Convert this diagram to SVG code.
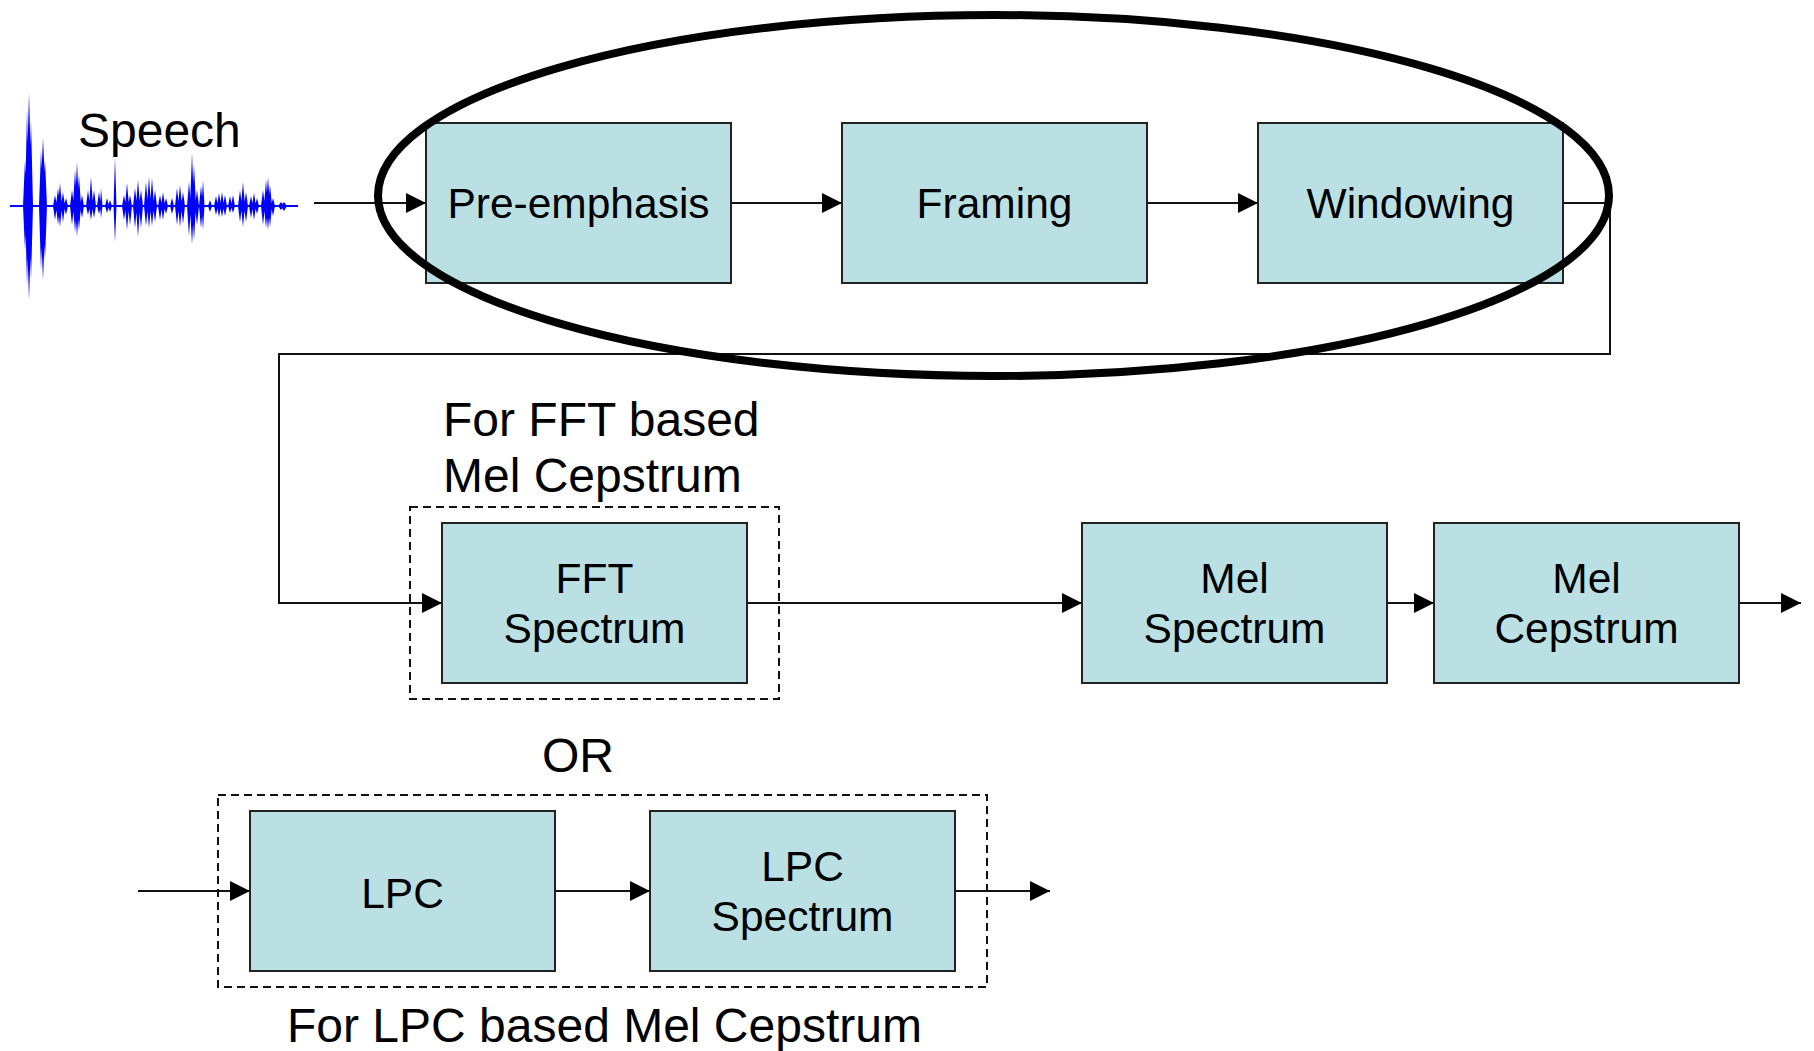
<svg xmlns="http://www.w3.org/2000/svg" width="1814" height="1051" viewBox="0 0 1814 1051">
<style>
.box{fill:#BAE0E3;stroke:#222;stroke-width:2}
.bt{font-family:"Liberation Sans",Arial,sans-serif;font-size:42.5px;fill:#000;text-anchor:middle}
.lbl{font-family:"Liberation Sans",Arial,sans-serif;font-size:48px;fill:#000}
.con{fill:none;stroke:#111;stroke-width:2}
.dash{fill:none;stroke:#111;stroke-width:2;stroke-dasharray:8 5}
</style>
<defs>
<marker id="ah" markerUnits="userSpaceOnUse" markerWidth="22" markerHeight="22" refX="20" refY="10" orient="auto" viewBox="0 0 22 22">
<path d="M0,0 L20,10 L0,20 Z" fill="#000"/>
</marker>
</defs>
<rect width="1814" height="1051" fill="#fff"/>

<g id="speech">
<path d="M10,206 H298" stroke="#0000FF" stroke-width="2"/>
<path fill="#0000FF" d="
M25,206 L27,110 L29,206 L27,285 Z M26,206 L29,93 L32,206 L29,300 Z M29,206 L31,120 L33,206 L31,280 Z M23,206 L25,160 L27,206 L25,250 Z
M39,206 L41,150 L43,206 L41,270 Z M40,206 L43,138 L46,206 L43,280 Z M43,206 L45,160 L47,206 L45,260 Z
M53,206 L55,195 L57,206 L55,220 Z M56,206 L58,188 L60,206 L58,225 Z M58,206 L60,183 L62,206 L60,227 Z M61,206 L63,192 L65,206 L63,222 Z M64,206 L66,198 L68,206 L66,215 Z
M70,206 L72,190 L74,206 L72,225 Z M73,206 L75,170 L77,206 L75,232 Z M75,206 L77,162 L79,206 L77,237 Z M77,206 L79,175 L81,206 L79,230 Z M80,206 L82,195 L84,206 L82,218 Z
M86,206 L88,190 L90,206 L88,215 Z M89,206 L91,177 L93,206 L91,220 Z M92,206 L94,190 L96,206 L94,218 Z
M97,206 L99,192 L101,206 L99,214 Z M100,206 L101,188 L102.5,206 L101,218 Z
M105,206 L107,198 L109,206 L107,213 Z M108,206 L110,200 L112,206 L110,212 Z
M113.5,206 L115,158 L116.5,206 L115,242 Z
M122,206 L124,195 L126,206 L124,220 Z M125,206 L127,183 L129,206 L127,230 Z M128,206 L130,195 L132,206 L130,225 Z
M133,206 L135,188 L137,206 L135,228 Z M136,206 L138,180 L140,206 L138,237 Z M139,206 L141,190 L143,206 L141,228 Z M144,206 L146,182 L148,206 L146,226 Z M147,206 L149,177 L151,206 L149,228 Z M150,206 L152,178 L154,206 L152,226 Z M153,206 L155,190 L157,206 L155,222 Z
M158,206 L160,195 L162,206 L160,220 Z M161,206 L163,192 L165,206 L163,220 Z M164,206 L166,198 L168,206 L166,214 Z
M170,206 L172,198 L174,206 L172,214 Z M175,206 L177,188 L179,206 L177,225 Z M178,206 L180,185 L182,206 L180,227 Z M181,206 L183,192 L185,206 L183,224 Z
M187,206 L189,182 L191,206 L189,236 Z M190,206 L192,153 L194,206 L192,245 Z M192,206 L194,165 L196,206 L194,240 Z M195,206 L197,190 L199,206 L197,225 Z
M199,206 L201,186 L203,206 L201,228 Z M201.5,206 L203,180 L204.5,206 L203,230 Z
M208,206 L210,200 L212,206 L210,212 Z M214,206 L216,196 L218,206 L216,215 Z M217,206 L219,193 L221,206 L219,217 Z M220,206 L222,192 L224,206 L222,217 Z M223,206 L225,195 L227,206 L225,216 Z
M228,206 L230,196 L232,206 L230,213 Z M231,206 L233,195 L235,206 L233,213 Z
M238,206 L240,190 L242,206 L240,222 Z M241,206 L243,182 L245,206 L243,227 Z M244,206 L246,192 L248,206 L246,222 Z
M249,206 L251,196 L253,206 L251,218 Z M252,206 L254,193 L256,206 L254,220 Z M255,206 L257,198 L259,206 L257,214 Z
M261,206 L263,190 L265,206 L263,225 Z M264,206 L266,180 L268,206 L266,228 Z M266,206 L268,177 L270,206 L268,230 Z M268,206 L270,185 L272,206 L270,227 Z M271,206 L273,198 L275,206 L273,216 Z
M278,206 L281,202 L284,206 L281,210 Z M281,206 L284,202 L287,206 L284,211 Z"/>
<text class="lbl" x="78" y="147">Speech</text>
</g>

<g id="connectors">
<path class="con" d="M314,203 H426" marker-end="url(#ah)"/>
<path class="con" d="M731,203 H842" marker-end="url(#ah)"/>
<path class="con" d="M1147,203 H1258" marker-end="url(#ah)"/>
<path class="con" d="M1563,203 H1610 V354 H279 V603 H442" marker-end="url(#ah)"/>
<path class="con" d="M747,603 H1082" marker-end="url(#ah)"/>
<path class="con" d="M1387,603 H1434" marker-end="url(#ah)"/>
<path class="con" d="M1739,603 H1801" marker-end="url(#ah)"/>
<path class="con" d="M138,891 H250" marker-end="url(#ah)"/>
<path class="con" d="M555,891 H650" marker-end="url(#ah)"/>
<path class="con" d="M955,891 H1050" marker-end="url(#ah)"/>
</g>

<g id="pre-emphasis">
<rect class="box" x="426" y="123" width="305" height="160"/>
<text class="bt" x="578.5" y="218">Pre-emphasis</text>
</g>
<g id="framing">
<rect class="box" x="842" y="123" width="305" height="160"/>
<text class="bt" x="994.5" y="218">Framing</text>
</g>
<g id="windowing">
<rect class="box" x="1258" y="123" width="305" height="160"/>
<text class="bt" x="1410.5" y="218">Windowing</text>
</g>

<g id="fft-group">
<rect class="dash" x="410" y="507" width="369" height="192"/>
<text class="lbl" x="443" y="436">For FFT based</text>
<text class="lbl" x="443" y="492">Mel Cepstrum</text>
</g>
<g id="fft-spectrum">
<rect class="box" x="442" y="523" width="305" height="160"/>
<text class="bt" x="594.5" y="593">FFT</text>
<text class="bt" x="594.5" y="643">Spectrum</text>
</g>
<g id="mel-spectrum">
<rect class="box" x="1082" y="523" width="305" height="160"/>
<text class="bt" x="1234.5" y="593">Mel</text>
<text class="bt" x="1234.5" y="643">Spectrum</text>
</g>
<g id="mel-cepstrum">
<rect class="box" x="1434" y="523" width="305" height="160"/>
<text class="bt" x="1586.5" y="593">Mel</text>
<text class="bt" x="1586.5" y="643">Cepstrum</text>
</g>

<g id="or-label">
<text class="lbl" x="542" y="772">OR</text>
</g>

<g id="lpc-group">
<rect class="dash" x="218" y="795" width="769" height="192"/>
<text class="lbl" x="287" y="1042">For LPC based Mel Cepstrum</text>
</g>
<g id="lpc">
<rect class="box" x="250" y="811" width="305" height="160"/>
<text class="bt" x="402.5" y="908">LPC</text>
</g>
<g id="lpc-spectrum">
<rect class="box" x="650" y="811" width="305" height="160"/>
<text class="bt" x="802.5" y="881">LPC</text>
<text class="bt" x="802.5" y="931">Spectrum</text>
</g>

<g id="highlight">
<ellipse cx="993.5" cy="195.5" rx="615.5" ry="180.5" fill="none" stroke="#000" stroke-width="8"/>
</g>
</svg>
